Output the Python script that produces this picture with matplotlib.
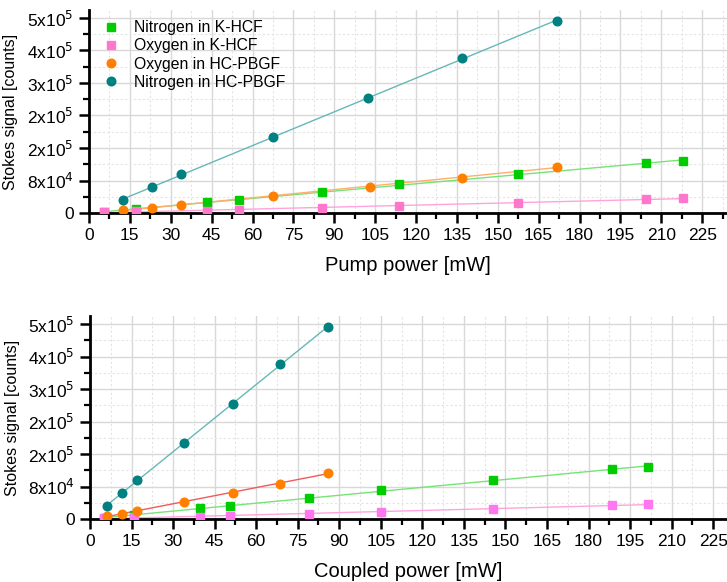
import numpy as np
import matplotlib
matplotlib.use("Agg")
import matplotlib.pyplot as plt
from matplotlib.ticker import FixedLocator, MultipleLocator

plt.rcParams['font.family'] = ['Liberation Sans', 'DejaVu Sans']

# ---- data: pump power (upper panel) ----
pump_n_khcf = [5.6, 17.2, 43.2, 55.0, 85.6, 113.9, 157.5, 204.3, 217.9]
sig_n_khcf = [1800, 10000, 27400, 34000, 54600, 73600, 99200, 127400, 134100]
pump_o_khcf = [5.6, 17.2, 43.2, 55.0, 85.6, 113.9, 157.5, 204.3, 217.9]
sig_o_khcf = [1500, 5100, 6000, 7700, 13600, 18800, 26400, 35100, 37600]
pump_o_hc = [12.4, 23.0, 33.8, 67.6, 103.1, 136.8, 171.6]
sig_o_hc = [6800, 13600, 21400, 44400, 67500, 90500, 118700]
pump_n_hc = [12.4, 23.0, 33.8, 67.6, 102.5, 136.8, 171.6]
sig_n_hc = [33300, 65900, 100000, 195000, 294000, 398000, 492000]

# ---- data: coupled power (lower panel) ----
cpl_n_khcf = [5.2, 15.9, 39.7, 50.5, 79.2, 104.9, 145.4, 188.5, 201.4]
cpl_o_khcf = [5.2, 15.9, 39.7, 50.5, 79.2, 104.9, 145.4, 188.5, 201.4]
cpl_o_hc = [6.0, 11.6, 16.9, 33.8, 51.6, 68.6, 86.0]
cpl_n_hc = [6.0, 11.6, 16.9, 33.8, 51.6, 68.6, 86.0]

# y tick labels as printed on the axis
ytick_labels = ["0", r"8x10$^4$", r"2x10$^5$", r"2x10$^5$", r"3x10$^5$", r"4x10$^5$", r"5x10$^5$"]
ytick_step = 5e5 / 6

fig = plt.figure(figsize=(7.27, 5.82), dpi=100)
ax1 = fig.add_axes([0.1224, 0.634, 0.8776, 0.3485])
ax2 = fig.add_axes([0.1238, 0.1082, 0.8762, 0.3485])


def style(ax, xmax, xlabel):
    ax.set_xlim(0, xmax)
    ax.set_ylim(0, 520000)
    ax.xaxis.set_major_locator(MultipleLocator(15))
    ax.xaxis.set_minor_locator(MultipleLocator(7.5))
    yt = [i * ytick_step for i in range(7)]
    ax.yaxis.set_major_locator(FixedLocator(yt))
    ax.yaxis.set_minor_locator(FixedLocator([v + ytick_step / 2 for v in yt]))
    ax.set_yticklabels(ytick_labels)
    ax.grid(which='major', color='#d8d8d8', lw=1.0, ls='-')
    ax.grid(which='minor', color='#e4e4e4', lw=0.8, ls=(0, (2, 2)))
    ax.set_axisbelow(True)
    for s in ['top', 'right']:
        ax.spines[s].set_visible(False)
    for s in ['left', 'bottom']:
        ax.spines[s].set_linewidth(2.0)
    ax.tick_params(which='major', direction='out', length=7, width=1.8, labelsize=12.5, pad=4)
    ax.tick_params(which='minor', direction='out', length=4, width=1.6)
    ax.set_xlabel(xlabel, fontsize=14.5, labelpad=9)
    ax.set_ylabel("Stokes signal [counts]", fontsize=11.5, labelpad=6)


def series(ax, x, y, marker, mcolor, lcolor, label):
    x = np.asarray(x, float)
    y = np.asarray(y, float)
    k, b = np.polyfit(x, y, 1)
    xs = np.array([x.min(), x.max()])
    ax.plot(xs, k * xs + b, color=lcolor, lw=1.0, zorder=2)
    ax.plot(x, y, ls='none', marker=marker, ms=6.2 if marker == 'o' else 5.3,
            mfc=mcolor, mec=mcolor, zorder=3, label=label)


GREEN, GREEN_L = '#00cc00', '#77e377'
PINK, PINK_L = '#ff77cc', '#ffa3dc'
ORANGE, ORANGE_L = '#ff8000', '#ffae6b'
TEAL, TEAL_L = '#008080', '#66b8b8'
RED_L = '#f05a5a'

series(ax1, pump_n_khcf, sig_n_khcf, 's', GREEN, GREEN_L, "Nitrogen in K-HCF")
series(ax1, pump_o_khcf, sig_o_khcf, 's', PINK, PINK_L, "Oxygen in K-HCF")
series(ax1, pump_o_hc, sig_o_hc, 'o', ORANGE, ORANGE_L, "Oxygen in HC-PBGF")
series(ax1, pump_n_hc, sig_n_hc, 'o', TEAL, TEAL_L, "Nitrogen in HC-PBGF")
style(ax1, 234.1, "Pump power [mW]")
ax1.legend(loc='upper left', bbox_to_anchor=(0.0, 1.02), frameon=False, fontsize=11.3,
           handlelength=1.0, handletextpad=1.0, labelspacing=0.2, markerscale=1.0)

series(ax2, cpl_n_khcf, sig_n_khcf, 's', GREEN, GREEN_L, "Nitrogen in K-HCF")
series(ax2, cpl_o_khcf, sig_o_khcf, 's', '#ff77ee', PINK_L, "Oxygen in K-HCF")
series(ax2, cpl_o_hc, sig_o_hc, 'o', ORANGE, RED_L, "Oxygen in HC-PBGF")
series(ax2, cpl_n_hc, sig_n_hc, 'o', TEAL, TEAL_L, "Nitrogen in HC-PBGF")
style(ax2, 230, "Coupled power [mW]")

fig.savefig("out.png", dpi=100)
